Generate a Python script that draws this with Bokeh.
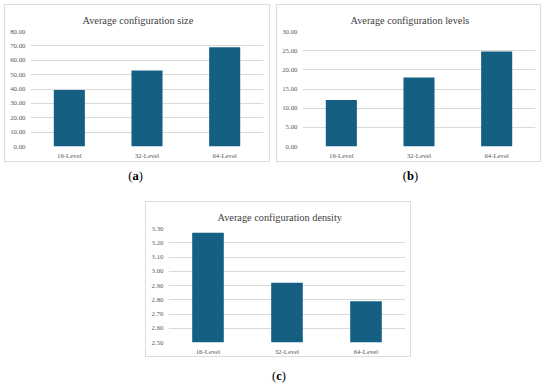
from bokeh.plotting import figure
from bokeh.models import (Range1d, FactorRange, FixedTicker, NumeralTickFormatter,
                          Div, Spacer, ColumnDataSource)
from bokeh.layouts import column, row
from bokeh.embed import file_html
from bokeh.resources import INLINE

# ---- data ----
categories = ["16-Level", "32-Level", "64-Level"]
size_vals = [39.3, 52.9, 69.1]
levels_vals = [12.1, 18.0, 24.8]
density_vals = [3.27, 2.92, 2.79]

size_ticks = [0, 10, 20, 30, 40, 50, 60, 70, 80]
levels_ticks = [0, 5, 10, 15, 20, 25, 30]
density_ticks = [2.5, 2.6, 2.7, 2.8, 2.9, 3.0, 3.1, 3.2, 3.3]

titles = ["Average configuration size", "Average configuration levels",
          "Average configuration density"]
captions = ["a", "b", "c"]

BAR = "#156082"
GRID = "#d9d9d9"
FONT = "Liberation Serif"


def make_panel(title, vals, ticks, width, height, mbl, mbr, mbt, mbb, toff):
    p = figure(x_range=FactorRange(*categories),
               y_range=Range1d(ticks[0], ticks[-1]),
               width=width, height=height,
               output_backend="svg", toolbar_location=None,
               min_border_left=mbl, min_border_right=mbr,
               min_border_top=mbt, min_border_bottom=mbb,
               styles={"border": "1px solid #dcdcdc"})
    src = ColumnDataSource(dict(cat=categories, val=vals))
    p.vbar(x="cat", top="val", bottom=ticks[0], width=0.4, source=src,
           fill_color=BAR, line_color=None)
    p.outline_line_color = None
    p.background_fill_color = "white"
    p.border_fill_color = "white"
    p.xgrid.grid_line_color = None
    p.ygrid.grid_line_color = GRID
    p.yaxis.ticker = FixedTicker(ticks=ticks)
    p.yaxis.formatter = NumeralTickFormatter(format="0.00")
    for ax in (p.xaxis[0], p.yaxis[0]):
        ax.axis_line_color = None
        ax.major_tick_line_color = None
        ax.minor_tick_line_color = None
        ax.major_tick_out = 0
        ax.major_tick_in = 0
        ax.minor_tick_out = 0
        ax.minor_tick_in = 0
        ax.major_label_text_font = FONT
        ax.major_label_text_font_size = "6.8px"
        ax.major_label_text_color = "#595959"
    p.yaxis.major_label_standoff = 5
    p.xaxis.major_label_standoff = 5
    p.title.text = title
    p.title.align = "left"
    p.title.text_font = FONT
    p.title.text_font_size = "10.3px"
    p.title.text_font_style = "normal"
    p.title.text_color = "#404040"
    p.title.offset = toff
    p.title.standoff = 12
    return p


fa = make_panel(titles[0], size_vals, size_ticks, 266, 158, 25, 8, 26, 17, 52)
fb = make_panel(titles[1], levels_vals, levels_ticks, 265, 158, 25, 7, 26, 17, 48)
fc = make_panel(titles[2], density_vals, density_ticks, 266, 156, 22, 7, 26, 16, 49)


def caption(letter, width, height, pad):
    return Div(text=("<div style=\"width:%dpx;text-align:center;font-family:'%s';"
                     "font-size:12.5px;line-height:1;padding-top:%dpx;color:#000\">"
                     "(<b>%s</b>)</div>") % (width, FONT, pad, letter),
               width=width, height=height, margin=0,
               styles={"text-align": "center"})


cap_a = caption(captions[0], 263, 39, 8)
cap_b = caption(captions[1], 267, 39, 8)
cap_c = caption(captions[2], 268, 26, 13)

layout = column(
    row(fa, Spacer(width=6), fb),
    row(cap_a, Spacer(width=10), cap_b),
    row(Spacer(width=141), fc),
    row(Spacer(width=141), cap_c),
    styles={"margin": "4px 0 0 4px"},
)

open("out.html", "w").write(file_html(layout, INLINE))
